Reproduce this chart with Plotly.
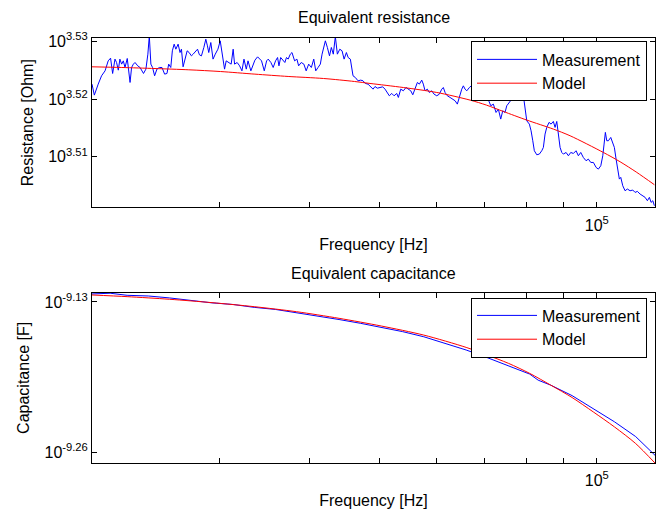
import math
import plotly.graph_objects as go

# ---------------- data ----------------
res_freq_hz = [
    20000, 20150, 20400, 20620, 20850, 21060, 21220, 21360, 21520, 21630,
    21750, 21860, 21980, 22100, 22220, 22380, 22580, 22690, 22820, 22940,
    23140, 23310, 23570, 23750, 23900, 24010, 24130, 24260, 24420, 24600,
    24790, 25000, 25210, 25400, 25540, 25710, 25840, 25990, 26130, 26320,
    26480, 26600, 26740, 26890, 27090, 27260, 27460, 27610, 27820, 28000,
    28170, 28350, 28570, 28750, 28900, 29020, 29210, 29420, 29630, 29880,
    30100, 30300, 30520, 30680, 30910, 31170, 31370, 31510, 31770, 32020,
    32260, 32470, 32710, 32890, 33190, 33440, 33620, 33910, 34160, 34340,
    34640, 34900, 35080, 35380, 35640, 35910, 36140, 36300, 36500, 36780,
    36990, 37180, 37380, 37640, 37840, 38160, 38440, 38650, 38970, 39300,
    39590, 39910, 40250, 40560, 40820, 41120, 41420, 41650, 41870, 42090,
    42360, 42650, 42900, 43170, 43450, 43730, 44070, 44390, 44680, 45010,
    45260, 45580, 45970, 46310, 46710, 47110, 47460, 47810, 48220, 48640,
    49000, 49310, 49670, 50100, 50530, 50910, 51280, 51610, 52010, 52400,
    52850, 53120, 53520, 53970, 54430, 54830, 55260, 55620, 56030, 56440,
    56800, 57230, 57520, 57840, 58260, 58630, 59090, 59520, 60040, 60540,
    61000, 61310, 61650, 62100, 62640, 63180, 63650, 64110, 64530, 65020,
    65350, 65710, 66070, 66620, 67470, 68550, 69660, 70780, 71320, 71910,
    72530, 73070, 73620, 74100, 74640, 75050, 75670, 76260, 77490, 78730,
    79310, 79560, 79990, 80660, 81100, 81540, 81950, 82590, 83270, 83910,
    84340, 84800, 85260, 85890, 86440, 87070, 87550, 88020, 88470, 88960,
    89440, 89900, 90680, 91350, 92040, 92810, 93610, 94300, 95020, 95810,
    96640, 97350, 98110, 98930, 99780, 100510, 101290, 101930, 102360, 102780,
    103240, 103770, 104560, 105230, 105770, 106350, 106920, 107470, 107950, 108640,
    109440, 110250, 111200, 112160, 112990, 113820, 114810, 115800, 116660, 117510,
    118270, 118910, 119560, 120170,
]
res_meas_ohm = [
    3331.2, 3316.6, 3331.2, 3342.3, 3348.9, 3362.3, 3365.9, 3345.4, 3364.6, 3360.1,
    3349.8, 3364.6, 3357.9, 3362.3, 3353.4, 3365.5, 3333.4, 3353.4, 3357.9, 3360.1,
    3355.6, 3353.4, 3345.4, 3351.2, 3371.3, 3396.0, 3357.9, 3353.4, 3342.3, 3351.2,
    3353.4, 3353.4, 3344.5, 3345.4, 3357.9, 3353.4, 3375.8, 3384.8, 3378.0, 3384.8,
    3373.5, 3378.0, 3354.3, 3364.6, 3375.8, 3373.5, 3369.0, 3371.3, 3375.8, 3378.0,
    3370.4, 3369.0, 3380.3, 3391.5, 3382.5, 3373.5, 3387.0, 3364.6, 3371.3, 3378.0,
    3389.3, 3371.3, 3351.2, 3362.3, 3360.1, 3357.9, 3378.0, 3357.9, 3360.1, 3355.6,
    3348.9, 3364.6, 3351.2, 3362.3, 3348.9, 3357.9, 3363.2, 3367.7, 3364.6, 3362.3,
    3348.9, 3362.3, 3364.6, 3360.1, 3353.4, 3362.3, 3366.8, 3355.6, 3366.8, 3362.3,
    3360.1, 3366.8, 3364.6, 3371.3, 3373.5, 3362.3, 3364.6, 3355.6, 3360.1, 3357.9,
    3348.9, 3357.9, 3353.4, 3364.6, 3348.9, 3353.4, 3357.9, 3371.3, 3382.5, 3389.3,
    3380.3, 3369.0, 3380.3, 3371.3, 3395.0, 3371.3, 3378.0, 3375.8, 3364.6, 3373.5,
    3366.8, 3364.6, 3342.3, 3340.0, 3335.6, 3336.5, 3335.6, 3332.1, 3331.2, 3326.8,
    3324.5, 3328.0, 3325.8, 3326.7, 3327.6, 3324.5, 3320.1, 3315.7, 3318.8, 3315.7,
    3318.8, 3313.5, 3324.5, 3322.3, 3326.7, 3324.5, 3322.3, 3317.0, 3324.5, 3333.4,
    3331.2, 3336.5, 3331.2, 3322.3, 3324.5, 3320.1, 3322.3, 3317.9, 3315.7, 3317.9,
    3324.5, 3326.7, 3320.1, 3315.7, 3313.5, 3311.3, 3309.1, 3304.7, 3315.7, 3324.5,
    3328.9, 3324.5, 3322.3, 3326.7, 3331.2, 3322.3, 3326.7, 3309.1, 3302.5, 3304.7,
    3293.7, 3298.1, 3285.0, 3295.9, 3293.7, 3302.5, 3306.9, 3311.3, 3317.9, 3313.5,
    3309.1, 3295.9, 3282.8, 3278.4, 3269.7, 3256.7, 3243.7, 3238.5, 3239.4, 3243.7,
    3248.0, 3265.4, 3274.1, 3280.7, 3278.4, 3281.9, 3274.1, 3281.9, 3265.4, 3248.0,
    3241.5, 3239.4, 3241.5, 3237.2, 3241.5, 3240.2, 3243.7, 3237.2, 3241.5, 3235.0,
    3230.8, 3232.9, 3228.6, 3228.6, 3222.2, 3220.0, 3224.3, 3237.2, 3252.4, 3267.6,
    3256.7, 3256.7, 3261.0, 3254.5, 3248.0, 3232.9, 3222.2, 3207.2, 3209.4, 3198.7,
    3192.3, 3194.5, 3192.3, 3193.2, 3190.2, 3191.5, 3188.1, 3186.0, 3183.9, 3179.6,
    3183.9, 3177.5, 3179.6, 3173.3,
]

res_model_freq_hz = [
    20000, 21990, 24450, 27230, 30120, 33620, 37380, 41840, 46190, 48530,
    53970, 60040, 66760, 70340, 74240, 79990, 87070, 91840, 102130, 107710,
    113600, 120170,
]
res_model_ohm = [
    3354.3, 3353.4, 3352.0, 3350.3, 3348.0, 3344.5, 3341.4, 3338.7, 3334.7, 3332.1,
    3326.7, 3320.1, 3310.0, 3303.4, 3295.0, 3283.7, 3271.9, 3263.2, 3241.5, 3229.5,
    3215.8, 3200.0,
]

cap_freq_hz = [
    20000, 21190, 22370, 23930, 25610, 27400, 29320, 31370, 33550, 35890,
    38400, 41090, 43970, 47040, 50320, 53830, 57600, 61630, 65940, 70550,
    75490, 80760, 82960, 86380, 92430, 98890, 105800, 113200, 120400,
]
cap_meas_pf = [
    753.2, 754.3, 751.2, 750.2, 747.3, 743.6, 740.0, 737.6, 733.4, 730.4,
    725.7, 720.8, 715.9, 710.6, 705.0, 698.9, 691.8, 682.9, 673.8, 663.6,
    652.6, 642.3, 634.6, 628.3, 615.4, 599.3, 584.2, 567.3, 546.6,
]
cap_model_freq_hz = [
    20000, 22370, 25610, 29320, 33550, 38400, 43970, 50320, 57600, 65940,
    70550, 75490, 80760, 86380, 92430, 98890, 105800, 113200, 120400,
]
cap_model_pf = [
    751.7, 749.2, 745.3, 740.3, 734.4, 727.1, 717.6, 706.7, 694.1, 677.3,
    667.0, 656.1, 643.2, 628.3, 613.1, 595.8, 578.3, 559.5, 538.2,
]

freq_major_hz = [100000]
freq_major_text = ["10<sup>5</sup>"]
res_tick_exp = [3.51, 3.52, 3.53]
cap_tick_exp = [-9.26, -9.13]

# ---------------- figure ----------------
FONT = "Liberation Sans, Arial, Helvetica, sans-serif"
BLUE = "#0000ff"
RED = "#ff0000"

cap_meas_f = [v * 1e-12 for v in cap_meas_pf]
cap_model_f = [v * 1e-12 for v in cap_model_pf]

fig = go.Figure()
fig.add_trace(go.Scatter(x=res_freq_hz, y=res_meas_ohm, mode="lines", name="Measurement",
                         line=dict(color=BLUE, width=1), xaxis="x", yaxis="y", legend="legend"))
fig.add_trace(go.Scatter(x=res_model_freq_hz, y=res_model_ohm, mode="lines", name="Model",
                         line=dict(color=RED, width=1, shape="spline", smoothing=0.8),
                         xaxis="x", yaxis="y", legend="legend"))
fig.add_trace(go.Scatter(x=cap_freq_hz, y=cap_meas_f, mode="lines", name="Measurement",
                         line=dict(color=BLUE, width=1), xaxis="x2", yaxis="y2", legend="legend2"))
fig.add_trace(go.Scatter(x=cap_model_freq_hz, y=cap_model_f, mode="lines", name="Model",
                         line=dict(color=RED, width=1, shape="spline", smoothing=0.8),
                         xaxis="x2", yaxis="y2", legend="legend2"))

xr = [math.log10(20000), math.log10(120400)]

def xax(anchor):
    return dict(type="log", range=xr, anchor=anchor, domain=[0, 1],
                tickvals=freq_major_hz, ticktext=freq_major_text,
                ticks="inside", ticklen=5, tickwidth=1, tickcolor="black",
                minor=dict(ticks="inside", ticklen=5, tickwidth=1, tickcolor="black",
                           dtick="D1", showgrid=False),
                showline=True, linecolor="black", linewidth=1, mirror="ticks",
                showgrid=False, zeroline=False, ticklabelstandoff=3,
                tickfont=dict(family=FONT, size=16, color="black"),
                title=dict(text="Frequency [Hz]", standoff=6,
                           font=dict(family=FONT, size=16, color="black")))

def yax(anchor, dom, rng, exps, title):
    return dict(type="log", range=rng, anchor=anchor, domain=dom,
                tickvals=[10 ** e for e in exps],
                ticktext=["10<sup>%g</sup>" % e for e in exps],
                ticks="inside", ticklen=5, tickwidth=1, tickcolor="black",
                showline=True, linecolor="black", linewidth=1, mirror="ticks",
                showgrid=False, zeroline=False,
                tickfont=dict(family=FONT, size=16, color="black"),
                title=dict(text=title, standoff=10,
                           font=dict(family=FONT, size=16, color="black")))

legend_common = dict(bgcolor="white", bordercolor="black", borderwidth=1,
                     font=dict(family=FONT, size=16, color="black"),
                     itemwidth=60,
                     xanchor="right", yanchor="top", x=0.9858)

fig.update_layout(
    width=664, height=518,
    margin=dict(l=92, r=9, t=38, b=55),
    paper_bgcolor="white", plot_bgcolor="white",
    font=dict(family=FONT, size=16, color="black"),
    xaxis=xax("y"),
    yaxis=yax("x", [0.6012, 1.0], [3.5012, 3.5306], res_tick_exp, "Resistance [Ohm]"),
    xaxis2=xax("y2"),
    yaxis2=yax("x2", [0.0, 0.4007], [-9.269, -9.122], cap_tick_exp, "Capacitance [F]"),
    legend=dict(y=0.9918, **legend_common),
    legend2=dict(y=0.3894, **legend_common),
    annotations=[
        dict(text="Equivalent resistance", xref="paper", yref="paper", x=0.5, y=(463 - 18) / 425,
             showarrow=False, yanchor="middle", font=dict(family=FONT, size=16, color="black")),
        dict(text="Equivalent capacitance", xref="paper", yref="paper", x=0.5, y=(463 - 273) / 425,
             showarrow=False, yanchor="middle", font=dict(family=FONT, size=16, color="black")),
    ],
)

fig.write_html("out.html")
